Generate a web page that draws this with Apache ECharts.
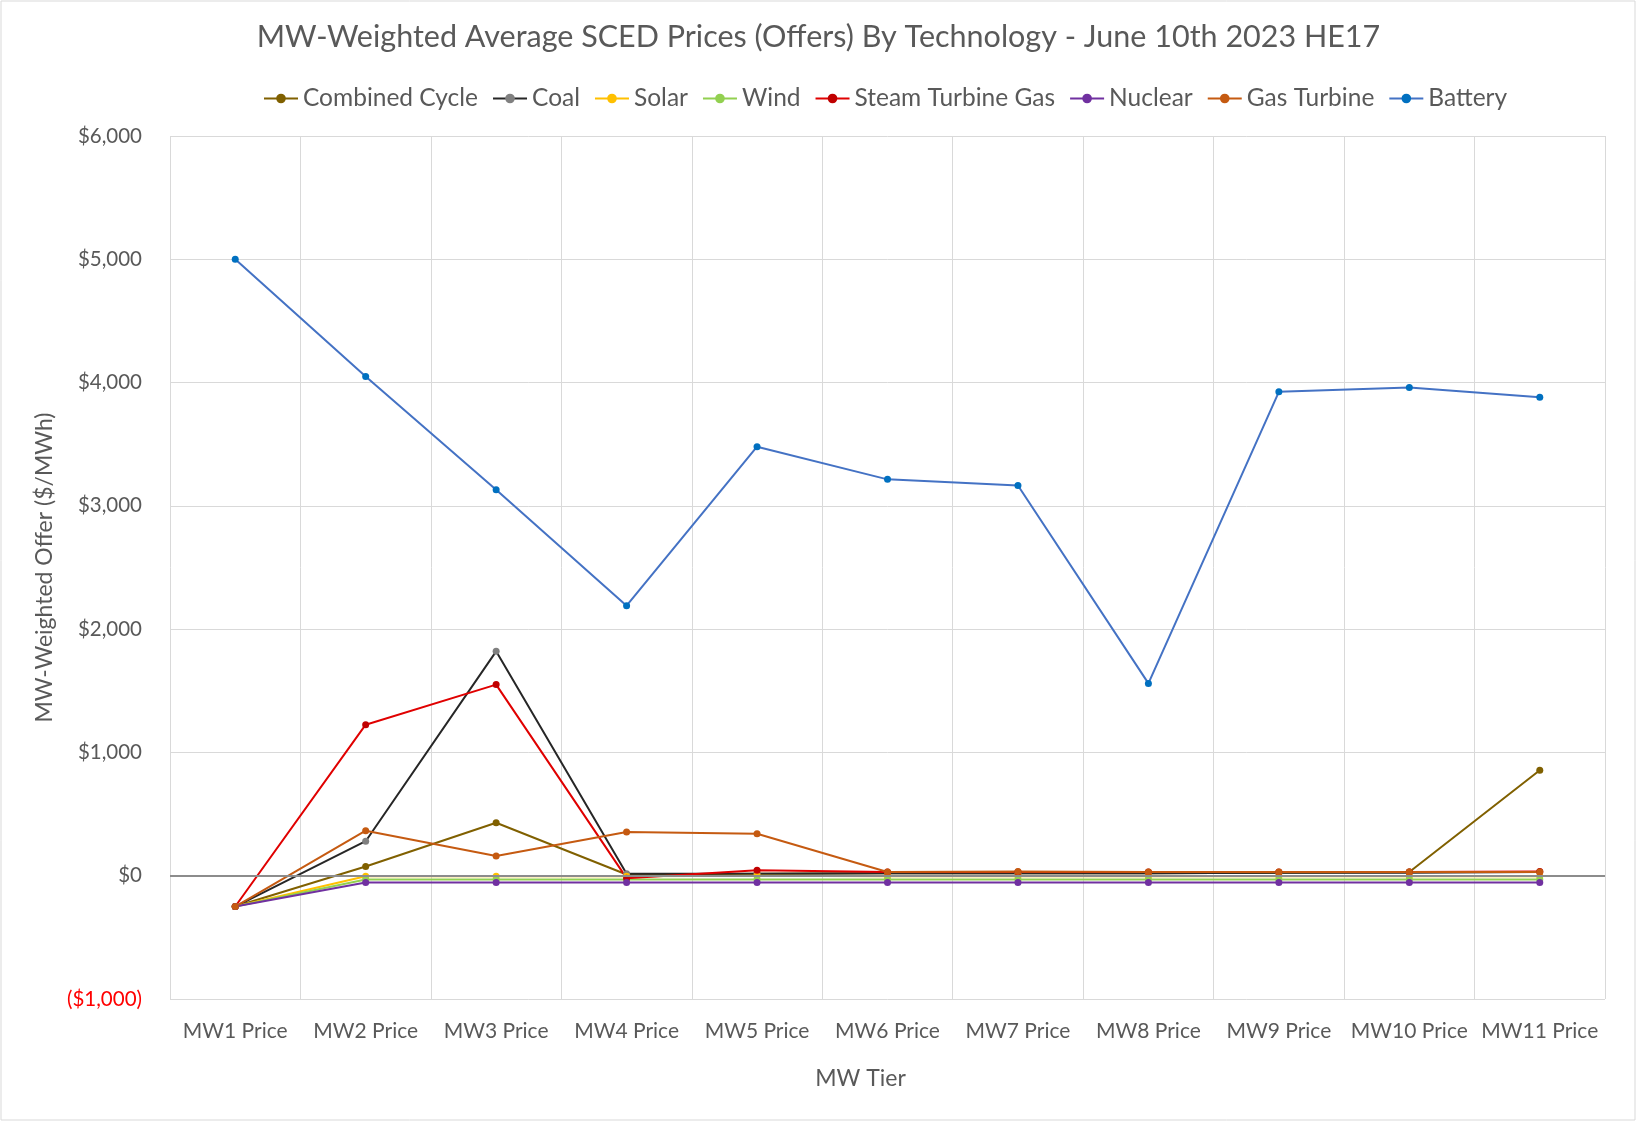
<!DOCTYPE html>
<html>
<head>
<meta charset="utf-8">
<script src="https://cdn.jsdelivr.net/npm/echarts@6/dist/echarts.min.js"></script>
<style>
  html, body { margin: 0; padding: 0; background: #fff; }
  #chart { width: 1637px; height: 1122px; }
</style>
</head>
<body>
<div id="chart"></div>
<script>
var tiers = ['MW1 Price', 'MW2 Price', 'MW3 Price', 'MW4 Price', 'MW5 Price', 'MW6 Price',
             'MW7 Price', 'MW8 Price', 'MW9 Price', 'MW10 Price', 'MW11 Price'];

var combinedCycle = [-250, 75, 430, 10, 15, 20, 20, 20, 25, 30, 855];
var coal = [-250, 280, 1820, 15, 15, 20, 20, 20, 25, 25, 30];
var solar = [-250, -5, -5, -5, 0, -5, -5, -5, -5, -5, -5];
var wind = [-250, -30, -30, -30, -30, -30, -30, -30, -30, -30, -30];
var steamTurbineGas = [-250, 1225, 1550, -20, 45, 30, 30, 30, 30, 30, 35];
var nuclear = [-250, -55, -55, -55, -55, -55, -55, -55, -55, -55, -55];
var gasTurbine = [-250, 365, 160, 355, 340, 30, 35, 30, 30, 30, 30];
var battery = [5000, 4050, 3130, 2190, 3480, 3215, 3165, 1560, 3925, 3960, 3880];

var font = 'Lato';

function makeSeries(name, data, lineColor, dotColor) {
    return {
        name: name,
        type: 'line',
        data: data,
        symbol: 'circle',
        symbolSize: 7,
        lineStyle: { color: lineColor, width: 2 },
        itemStyle: { color: dotColor || lineColor },
        emphasis: { disabled: true }
    };
}

var series = [
    makeSeries('Combined Cycle', combinedCycle, '#806000'),
    makeSeries('Coal', coal, '#262626', '#808080'),
    makeSeries('Solar', solar, '#FFC000'),
    makeSeries('Wind', wind, '#92D050'),
    makeSeries('Steam Turbine Gas', steamTurbineGas, '#E00000', '#C00000'),
    makeSeries('Nuclear', nuclear, '#7030A0'),
    makeSeries('Gas Turbine', gasTurbine, '#C55A11'),
    makeSeries('Battery', battery, '#4472C4', '#0070C0')
];

// zero line across plot
series[0].markLine = {
    silent: true,
    symbol: 'none',
    label: { show: false },
    lineStyle: { color: '#8c8c8c', width: 2, type: 'solid' },
    data: [{ yAxis: 0 }]
};

var option = {
    animation: false,
    backgroundColor: '#fff',
    title: {
        text: 'MW-Weighted Average SCED Prices (Offers) By Technology - June 10th 2023 HE17',
        left: 'center',
        top: 17,
        textStyle: { fontFamily: font, fontSize: 30.5, fontWeight: 'normal', color: '#595959' }
    },
    legend: {
        top: 81,
        left: 258,
        itemWidth: 34,
        itemHeight: 12,
        itemGap: 14,
        textStyle: { fontFamily: font, fontSize: 24.5, color: '#595959' },
        data: series.map(function (s) { return s.name; })
    },
    grid: { left: 170, right: 32, top: 136, bottom: 123 },
    xAxis: {
        type: 'category',
        data: tiers,
        boundaryGap: true,
        axisLine: { show: false },
        axisTick: { show: false },
        splitLine: { show: true, lineStyle: { color: '#d9d9d9', width: 1 } },
        axisLabel: { fontFamily: font, fontSize: 21, color: '#595959', margin: 22, interval: 0 },
        name: 'MW Tier',
        nameLocation: 'middle',
        nameGap: 68,
        nameTextStyle: { fontFamily: font, fontSize: 23, color: '#595959', padding: [0, 54, 0, 0] }
    },
    yAxis: {
        type: 'value',
        min: -1000,
        max: 6000,
        interval: 1000,
        axisLine: { show: false },
        axisTick: { show: false },
        splitLine: { lineStyle: { color: '#d9d9d9', width: 1 } },
        axisLabel: {
            fontFamily: font,
            fontSize: 20.5,
            margin: 28,
            color: function (v) { return v < 0 ? '#FF0000' : '#595959'; },
            formatter: function (v) {
                var s = '$' + Math.abs(v).toLocaleString('en-US');
                return v < 0 ? '(' + s + ')' : s;
            }
        },
        name: 'MW-Weighted Offer ($/MWh)',
        nameLocation: 'middle',
        nameGap: 112,
        nameTextStyle: { fontFamily: font, fontSize: 23, color: '#595959' }
    },
    graphic: [{
        type: 'rect',
        shape: { x: 1, y: 1, width: 1634, height: 1119 },
        style: { fill: 'none', stroke: '#d9d9d9', lineWidth: 1 },
        silent: true
    }],
    series: series
};

window.onload = function () {
    var chart = echarts.init(document.getElementById('chart'));
    chart.setOption(option);
};
</script>
</body>
</html>
